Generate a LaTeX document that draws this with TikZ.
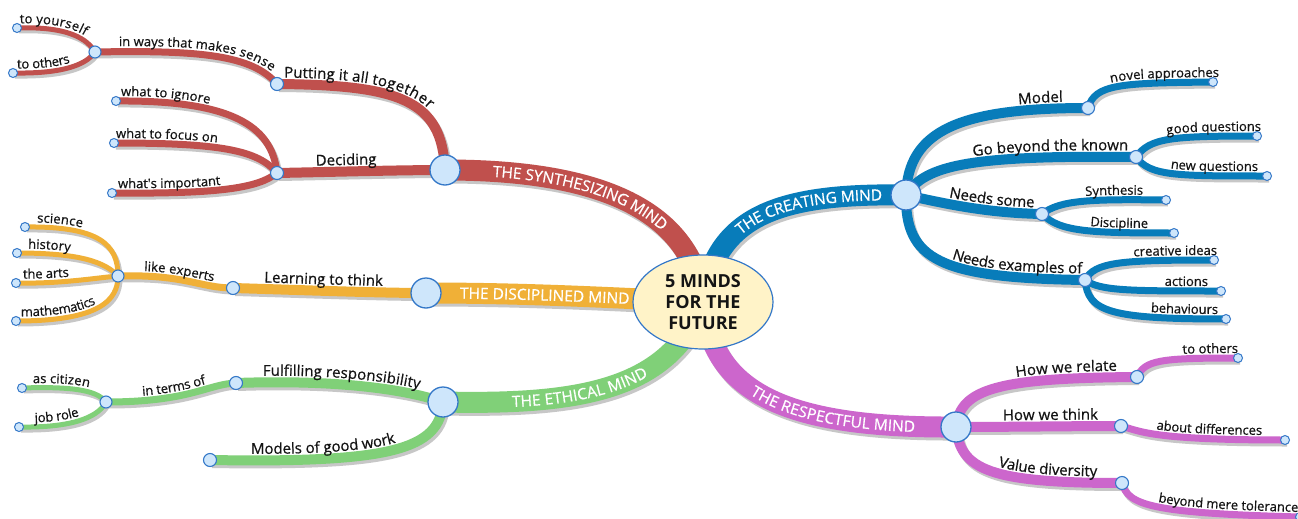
\documentclass[tikz,border=0pt]{standalone}
\usepackage{fontspec}
\setmainfont{Open Sans}
\newfontfamily\lblf{Open Sans}[FakeBold=0.6]
\usetikzlibrary{shapes.geometric,decorations.text}
\pgfdeclarelayer{shadow}\pgfdeclarelayer{branch}\pgfdeclarelayer{top}
\pgfsetlayers{shadow,branch,main,top}
\definecolor{cRed}{RGB}{192,80,77}
\definecolor{cBlue}{RGB}{8,124,186}
\definecolor{cOrange}{RGB}{240,176,55}
\definecolor{cGreen}{RGB}{128,208,120}
\definecolor{cPurple}{RGB}{204,102,204}
\definecolor{cFill}{RGB}{206,230,251}
\definecolor{cEdge}{RGB}{52,120,200}
\definecolor{cCenter}{RGB}{255,243,200}
\definecolor{cText}{RGB}{20,20,20}
\newcommand\fM{\color{white}\lblf\fontsize{15.5}{18}\selectfont}
\newcommand\fL{\color{cText}\lblf\fontsize{15}{18}\selectfont}
\newcommand\fS{\color{cText}\lblf\fontsize{13}{15}\selectfont}
\newcommand\mmb[5]{%
  \begin{pgfonlayer}{shadow}\draw[#1,shd] #2;\end{pgfonlayer}%
  \begin{pgfonlayer}{branch}\draw[#1] #2;\end{pgfonlayer}%
  \path[decorate,decoration={text along path,text={#3},#4}] #2 #5;}
\tikzset{
  shd/.style={draw=black!22, transform canvas={xshift=2pt,yshift=-3pt}},
  L1/.style={draw=#1, line width=21},
  L2/.style={draw=#1, line width=10},
  L3/.style={draw=#1, line width=7},
  L4/.style={draw=#1, line width=5},
  bigc/.style={circle, inner sep=0, minimum size=30, fill=cFill, draw=cEdge, line width=1.3},
  midc/.style={circle, inner sep=0, minimum size=13, fill=cFill, draw=cEdge, line width=1.1},
  smlc/.style={circle, inner sep=0, minimum size=12, fill=cFill, draw=cEdge, line width=1.1},
  endc/.style={circle, inner sep=0, minimum size=9, fill=cFill, draw=cEdge, line width=1},
}
\begin{document}
\begin{tikzpicture}[x=1pt,y=-1pt]
\useasboundingbox (0,0) rectangle (1298,519);
\begin{pgfonlayer}{shadow}
\fill[white] (0,0) rectangle (1298,519);
\end{pgfonlayer}
\begin{pgfonlayer}{top}
\node[ellipse, minimum width=140, minimum height=94, fill=cCenter, draw=cEdge, line width=1.2, inner sep=0, align=center, text=cText, font=\bfseries\fontsize{18}{21}\selectfont] (ctr) at (703,302) {5 MINDS\\FOR THE\\FUTURE};
\node[bigc] (S) at (445,170) {};
\node[bigc] (DM) at (426,293) {};
\node[bigc] (EM) at (443,402) {};
\node[bigc] (C) at (906,195) {};
\node[bigc] (R) at (956,427) {};
% red
\node[midc] (P) at (277,84) {};
\node[midc] (D) at (277,173) {};
\node[smlc] (W) at (95,52) {};
\node[endc] (ry1) at (17,28) {};
\node[endc] (ry2) at (13,73) {};
\node[endc] (ri1) at (116,101) {};
\node[endc] (ri2) at (114,143) {};
\node[endc] (ri3) at (112,193) {};
% orange
\node[midc] (L) at (233,288) {};
\node[smlc] (LE) at (118,276) {};
\node[endc] (o1) at (25,227) {};
\node[endc] (o2) at (17,253) {};
\node[endc] (o3) at (16,283) {};
\node[endc] (o4) at (16,321) {};
% green
\node[midc] (F) at (236,383) {};
\node[midc] (GW) at (210,460) {};
\node[smlc] (IT) at (106,402) {};
\node[endc] (g1) at (22,388) {};
\node[endc] (g2) at (19,427) {};
% blue
\node[midc] (M) at (1088,108) {};
\node[midc] (G) at (1136,157) {};
\node[midc] (N) at (1042,214) {};
\node[midc] (E) at (1085,280) {};
\node[endc] (b1) at (1213,82) {};
\node[endc] (b2) at (1257,136) {};
\node[endc] (b3) at (1267,176) {};
\node[endc] (b4) at (1166,200) {};
\node[endc] (b5) at (1174,233) {};
\node[endc] (b6) at (1214,260) {};
\node[endc] (b7) at (1221,291) {};
\node[endc] (b8) at (1226,319) {};
% purple
\node[midc] (HR) at (1137,377) {};
\node[midc] (HT) at (1121,426) {};
\node[midc] (VD) at (1122,483) {};
\node[endc] (p1) at (1238,358) {};
\node[endc] (p2) at (1285,440) {};
\node[endc] (p3) at (1300,517) {};
\end{pgfonlayer}
% main branches
\mmb{L1=cRed}{(S.center) .. controls (580,170) and (690,200) .. (ctr.center)}{|\fM|THE SYNTHESIZING MIND}{text align={left,left indent=48pt},raise=-5.5pt}{}
\mmb{L1=cBlue}{(ctr.center) .. controls (715,215) and (780,193) .. (C.center)}{|\fM|THE CREATING MIND}{text align={right,right indent=24pt},raise=-5.5pt}{}
\mmb{L1=cOrange}{(DM.center) .. controls (520,293) and (600,297) .. (ctr.center)}{|\fM|THE DISCIPLINED MIND}{text align={left,left indent=34pt},raise=-5.5pt}{}
\mmb{L1=cGreen}{(EM.center) .. controls (580,405) and (670,390) .. (ctr.center)}{|\fM|THE ETHICAL MIND}{text align={left,left indent=69pt},raise=-5.5pt}{}
\mmb{L1=cPurple}{(ctr.center) .. controls (712,395) and (790,428) .. (R.center)}{|\fM|THE RESPECTFUL MIND}{text align={right,right indent=41pt},raise=-5.5pt}{}
% red
\mmb{L2=cRed}{(P.center) .. controls (400,85) and (442,100) .. (S.center)}{|\fL|Putting it all together}{text align={left,left indent=7pt},raise=6.5pt}{}
\mmb{L2=cRed}{(D.center) .. controls (330,172) and (400,170) .. (S.center)}{|\fL|Deciding}{text align={left,left indent=39pt},raise=6.5pt}{}
\mmb{L3=cRed}{(W.center) .. controls (200,50) and (252,55) .. (P.center)}{|\fS|in ways that makes sense}{text align={left,left indent=24pt},raise=5.5pt}{}
\mmb{L4=cRed}{(ry1.center) .. controls (70,26) and (88,40) .. (W.center)}{|\fS|to yourself}{text align={left,left indent=3pt},raise=4.5pt}{}
\mmb{L4=cRed}{(ry2.center) .. controls (70,74) and (88,62) .. (W.center)}{|\fS|to others}{text align={left,left indent=4pt},raise=4.5pt}{}
\mmb{L3=cRed}{(ri1.center) .. controls (230,100) and (272,125) .. (D.center)}{|\fS|what to ignore}{text align={left,left indent=5pt},raise=5pt}{}
\mmb{L3=cRed}{(ri2.center) .. controls (220,143) and (258,150) .. (D.center)}{|\fS|what to focus on}{text align={left,left indent=2pt},raise=5pt}{}
\mmb{L3=cRed}{(ri3.center) .. controls (220,194) and (258,188) .. (D.center)}{|\fS|what's important}{text align={left,left indent=6pt},raise=5pt}{}
% orange
\mmb{L2=cOrange}{(L.center) .. controls (300,290) and (380,293) .. (DM.center)}{|\fL|Learning to think}{text align={left,left indent=31pt},raise=6.5pt}{}
\mmb{L3=cOrange}{(LE.center) .. controls (185,274) and (200,288) .. (L.center)}{|\fS|like experts}{text align={left,left indent=26pt},raise=5pt}{}
\mmb{L4=cOrange}{(o1.center) .. controls (100,226) and (118,245) .. (LE.center)}{|\fS|science}{text align={left,left indent=12pt},raise=4.5pt}{}
\mmb{L4=cOrange}{(o2.center) .. controls (80,253) and (105,262) .. (LE.center)}{|\fS|history}{text align={left,left indent=11pt},raise=4.5pt}{}
\mmb{L4=cOrange}{(o3.center) .. controls (60,284) and (95,278) .. (LE.center)}{|\fS|the arts}{text align={left,left indent=7pt},raise=4.5pt}{}
\mmb{L4=cOrange}{(o4.center) .. controls (100,321) and (118,300) .. (LE.center)}{|\fS|mathematics}{text align={left,left indent=5pt},raise=4.5pt}{}
% green
\mmb{L2=cGreen}{(F.center) .. controls (320,380) and (395,386) .. (EM.center)}{|\fL|Fulfilling responsibility}{text align={left,left indent=27pt},raise=6.5pt}{}
\mmb{L2=cGreen}{(GW.center) .. controls (390,463) and (440,450) .. (EM.center)}{|\fL|Models of good work}{text align={left,left indent=41pt},raise=6.5pt}{}
\mmb{L3=cGreen}{(IT.center) .. controls (190,402) and (208,384) .. (F.center)}{|\fS|in terms of}{text align={left,left indent=37pt},raise=5pt}{}
\mmb{L4=cGreen}{(g1.center) .. controls (80,386) and (98,392) .. (IT.center)}{|\fS|as citizen}{text align={left,left indent=11pt},raise=4.5pt}{}
\mmb{L4=cGreen}{(g2.center) .. controls (80,428) and (100,414) .. (IT.center)}{|\fS|job role}{text align={left,left indent=16pt},raise=4.5pt}{}
% blue
\mmb{L2=cBlue}{(C.center) .. controls (908,130) and (960,108) .. (M.center)}{|\fL|Model}{text align={right,right indent=65pt},raise=6.5pt}{-- ++(40,0)}
\mmb{L2=cBlue}{(C.center) .. controls (925,165) and (970,155) .. (G.center)}{|\fL|Go beyond the known}{text align={right,right indent=48pt},raise=6.5pt}{-- ++(40,0)}
\mmb{L2=cBlue}{(C.center) .. controls (950,205) and (990,213) .. (N.center)}{|\fL|Needs some}{text align={right,right indent=48pt},raise=6.5pt}{-- ++(40,0)}
\mmb{L2=cBlue}{(C.center) .. controls (905,260) and (940,278) .. (E.center)}{|\fL|Needs examples of}{text align={right,right indent=43pt},raise=6.5pt}{-- ++(40,0)}
\mmb{L3=cBlue}{(M.center) .. controls (1095,84) and (1120,83) .. (b1.center)}{|\fS|novel approaches}{text align={right,right indent=34pt},raise=5pt}{-- ++(40,0)}
\mmb{L3=cBlue}{(G.center) .. controls (1150,138) and (1170,136) .. (b2.center)}{|\fS|good questions}{text align={right,right indent=36pt},raise=5pt}{-- ++(40,0)}
\mmb{L3=cBlue}{(G.center) .. controls (1150,176) and (1175,176) .. (b3.center)}{|\fS|new questions}{text align={right,right indent=49pt},raise=5pt}{-- ++(40,0)}
\mmb{L3=cBlue}{(N.center) .. controls (1060,200) and (1090,199) .. (b4.center)}{|\fS|Synthesis}{text align={right,right indent=63pt},raise=5pt}{-- ++(40,0)}
\mmb{L3=cBlue}{(N.center) .. controls (1060,232) and (1090,233) .. (b5.center)}{|\fS|Discipline}{text align={right,right indent=66pt},raise=5pt}{-- ++(40,0)}
\mmb{L3=cBlue}{(E.center) .. controls (1095,262) and (1120,260) .. (b6.center)}{|\fS|creative ideas}{text align={right,right indent=37pt},raise=5pt}{-- ++(40,0)}
\mmb{L3=cBlue}{(E.center) .. controls (1100,291) and (1130,291) .. (b7.center)}{|\fS|actions}{text align={right,right indent=53pt},raise=5pt}{-- ++(40,0)}
\mmb{L3=cBlue}{(E.center) .. controls (1088,312) and (1110,319) .. (b8.center)}{|\fS|behaviours}{text align={right,right indent=48pt},raise=5pt}{-- ++(40,0)}
% purple
\mmb{L2=cPurple}{(R.center) .. controls (960,388) and (1000,378) .. (HR.center)}{|\fL|How we relate}{text align={right,right indent=60pt},raise=6.5pt}{-- ++(40,0)}
\mmb{L2=cPurple}{(R.center) .. controls (1000,427) and (1080,426) .. (HT.center)}{|\fL|How we think}{text align={right,right indent=63pt},raise=6.5pt}{-- ++(40,0)}
\mmb{L2=cPurple}{(R.center) .. controls (960,470) and (990,483) .. (VD.center)}{|\fL|Value diversity}{text align={right,right indent=65pt},raise=6.5pt}{-- ++(40,0)}
\mmb{L3=cPurple}{(HR.center) .. controls (1145,360) and (1160,358) .. (p1.center)}{|\fS|to others}{text align={right,right indent=40pt},raise=5pt}{-- ++(40,0)}
\mmb{L3=cPurple}{(HT.center) .. controls (1140,431) and (1150,440) .. (p2.center)}{|\fS|about differences}{text align={right,right indent=63pt},raise=5pt}{-- ++(40,0)}
\mmb{L3=cPurple}{(VD.center) .. controls (1128,505) and (1150,513) .. (p3.center)}{|\fS|beyond mere tolerance}{text align={right,right indent=42pt},raise=5pt}{-- ++(40,0)}
\end{tikzpicture}
\end{document}
